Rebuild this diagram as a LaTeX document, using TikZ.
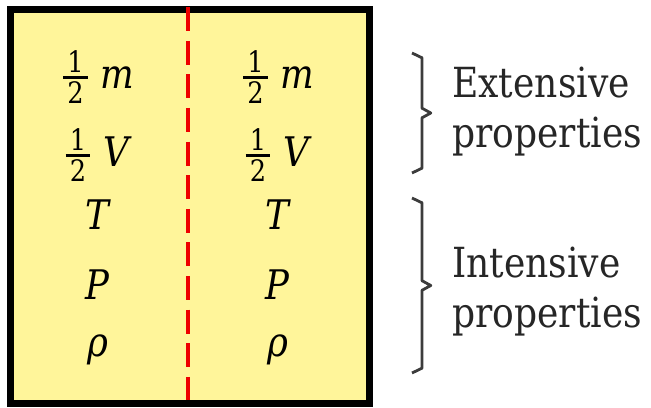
\documentclass[tikz,border=0pt]{standalone}
\usepackage{amsmath}
\usepackage{fontspec}
\setmainfont{DejaVu Serif}[FakeStretch=0.87]
\usepackage{tikz}
\usepackage{xcolor}
\usetikzlibrary{positioning,calc}
\definecolor{boxfill}{HTML}{FFF59A}
\definecolor{cutred}{HTML}{EE0000}
\definecolor{bracegray}{HTML}{3C3C3C}
\newcommand{\halfdigit}[1]{\text{\hspace{3pt}\fontsize{21}{21}\selectfont #1\hspace{3pt}}}
\newcommand{\halfof}{\raisebox{2pt}{$\genfrac{}{}{1.8pt}{}{\halfdigit{1}}{\halfdigit{2}}$}}

\begin{document}
\begin{tikzpicture}[every node/.style={font=\fontsize{29}{33}\selectfont}]
   \tikzstyle{q}=[anchor=base, inner sep=0pt];
   \tikzstyle{lbl}=[anchor=base west, align=left, inner sep=0pt, text=black!85,
                    font=\fontsize{29.5}{36}\selectfont];
   \tikzstyle{br}=[draw=bracegray, line width=2pt, line join=round];
   \useasboundingbox (0,0) rectangle (16.275,-10.2);
   % the system and the cut through it
   \draw[fill=boxfill, line width=4.6pt] (0.26,-0.24) rectangle (9.24,-10.09);
   \coordinate (cuttop) at (4.7,-0.18);
   \coordinate (cutbot) at (4.7,-10.0);
   \draw[cutred, line width=2.6pt, dash pattern=on 0.6cm off 0.24cm] (cuttop) -- (cutbot);
   % left half
   \node[q] (ml) at (2.45,-2.225) {\halfof\;\textit{m}};
   \node[q] (vl) at (2.45,-4.175) {\halfof\;\textit{V}};
   \node[q] (tl) at (2.45,-5.75)  {\textit{T}};
   \node[q] (pl) at (2.45,-7.5)   {\textit{P}};
   \node[q] (rl) at (2.45,-8.925) {\textit{ρ}};
   % right half
   \node[q] (mr) at (6.95,-2.225) {\halfof\;\textit{m}};
   \node[q] (vr) at (6.95,-4.175) {\halfof\;\textit{V}};
   \node[q] (tr) at (6.95,-5.75)  {\textit{T}};
   \node[q] (pr) at (6.95,-7.5)   {\textit{P}};
   \node[q] (rr) at (6.95,-8.925) {\textit{ρ}};
   % braces
   \coordinate (ea) at (10.3,-1.325);
   \coordinate (eb) at (10.3,-4.325);
   \coordinate (ia) at (10.3,-4.95);
   \coordinate (ib) at (10.3,-9.325);
   \draw[br] (ea) -- ++(0.25,-0.12) -- ($(ea)!0.5!(eb)+(0.25,0.12)$) -- ++(0.22,-0.12)
             -- ++(-0.22,-0.12) -- ($(eb)+(0.25,0.12)$) -- (eb);
   \draw[br] (ia) -- ++(0.25,-0.12) -- ($(ia)!0.5!(ib)+(0.25,0.12)$) -- ++(0.22,-0.12)
             -- ++(-0.22,-0.12) -- ($(ib)+(0.25,0.12)$) -- (ib);
   \node[lbl] (ext) at (11.3,-3.7) {Extensive\\properties};
   \node[lbl] (int) at (11.3,-8.2) {Intensive\\properties};
\end{tikzpicture}
\end{document}
